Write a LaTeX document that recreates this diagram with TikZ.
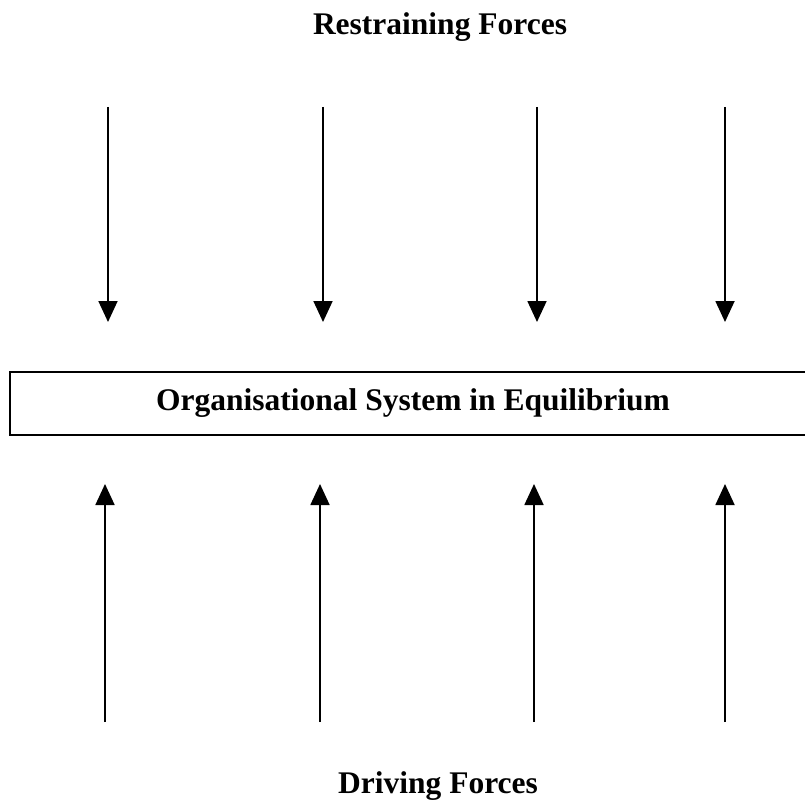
\documentclass[tikz,border=0pt]{standalone}
\usepackage{fontspec}
\setmainfont{Liberation Serif}
\usetikzlibrary{arrows.meta, positioning}

\begin{document}
\begin{tikzpicture}[x=1pt, y=-1pt,
  force/.style={line width=1.8pt, -{Triangle[length=21pt, width=19pt]}},
  heading/.style={font=\bfseries\fontsize{31.5}{36}\selectfont, anchor=base},
  sysbox/.style={draw, line width=1.6pt, minimum width=806pt, minimum height=63pt,
    inner sep=0pt, font=\bfseries\fontsize{31.5}{36}\selectfont}]
  \useasboundingbox (0,0) rectangle (805,805);

  % Labels
  \node[heading] (restrain) at (440,35) {Restraining Forces};
  \node[heading] (drive) at (438,793) {Driving Forces};

  % System box
  \node[sysbox] (system) at (413,403.5) {Organisational System in Equilibrium};

  % Forces
  \foreach \i/\xa/\xb in {1/108/105, 2/323/320, 3/537/534, 4/725/725} {
    \coordinate (rtop\i) at (\xa,107);
    \coordinate (rtip\i) at (\xa,322);
    \coordinate (dbot\i) at (\xb,722);
    \coordinate (dtip\i) at (\xb,484);
    \draw[force] (rtop\i) -- (rtip\i);
    \draw[force] (dbot\i) -- (dtip\i);
  }
\end{tikzpicture}
\end{document}
